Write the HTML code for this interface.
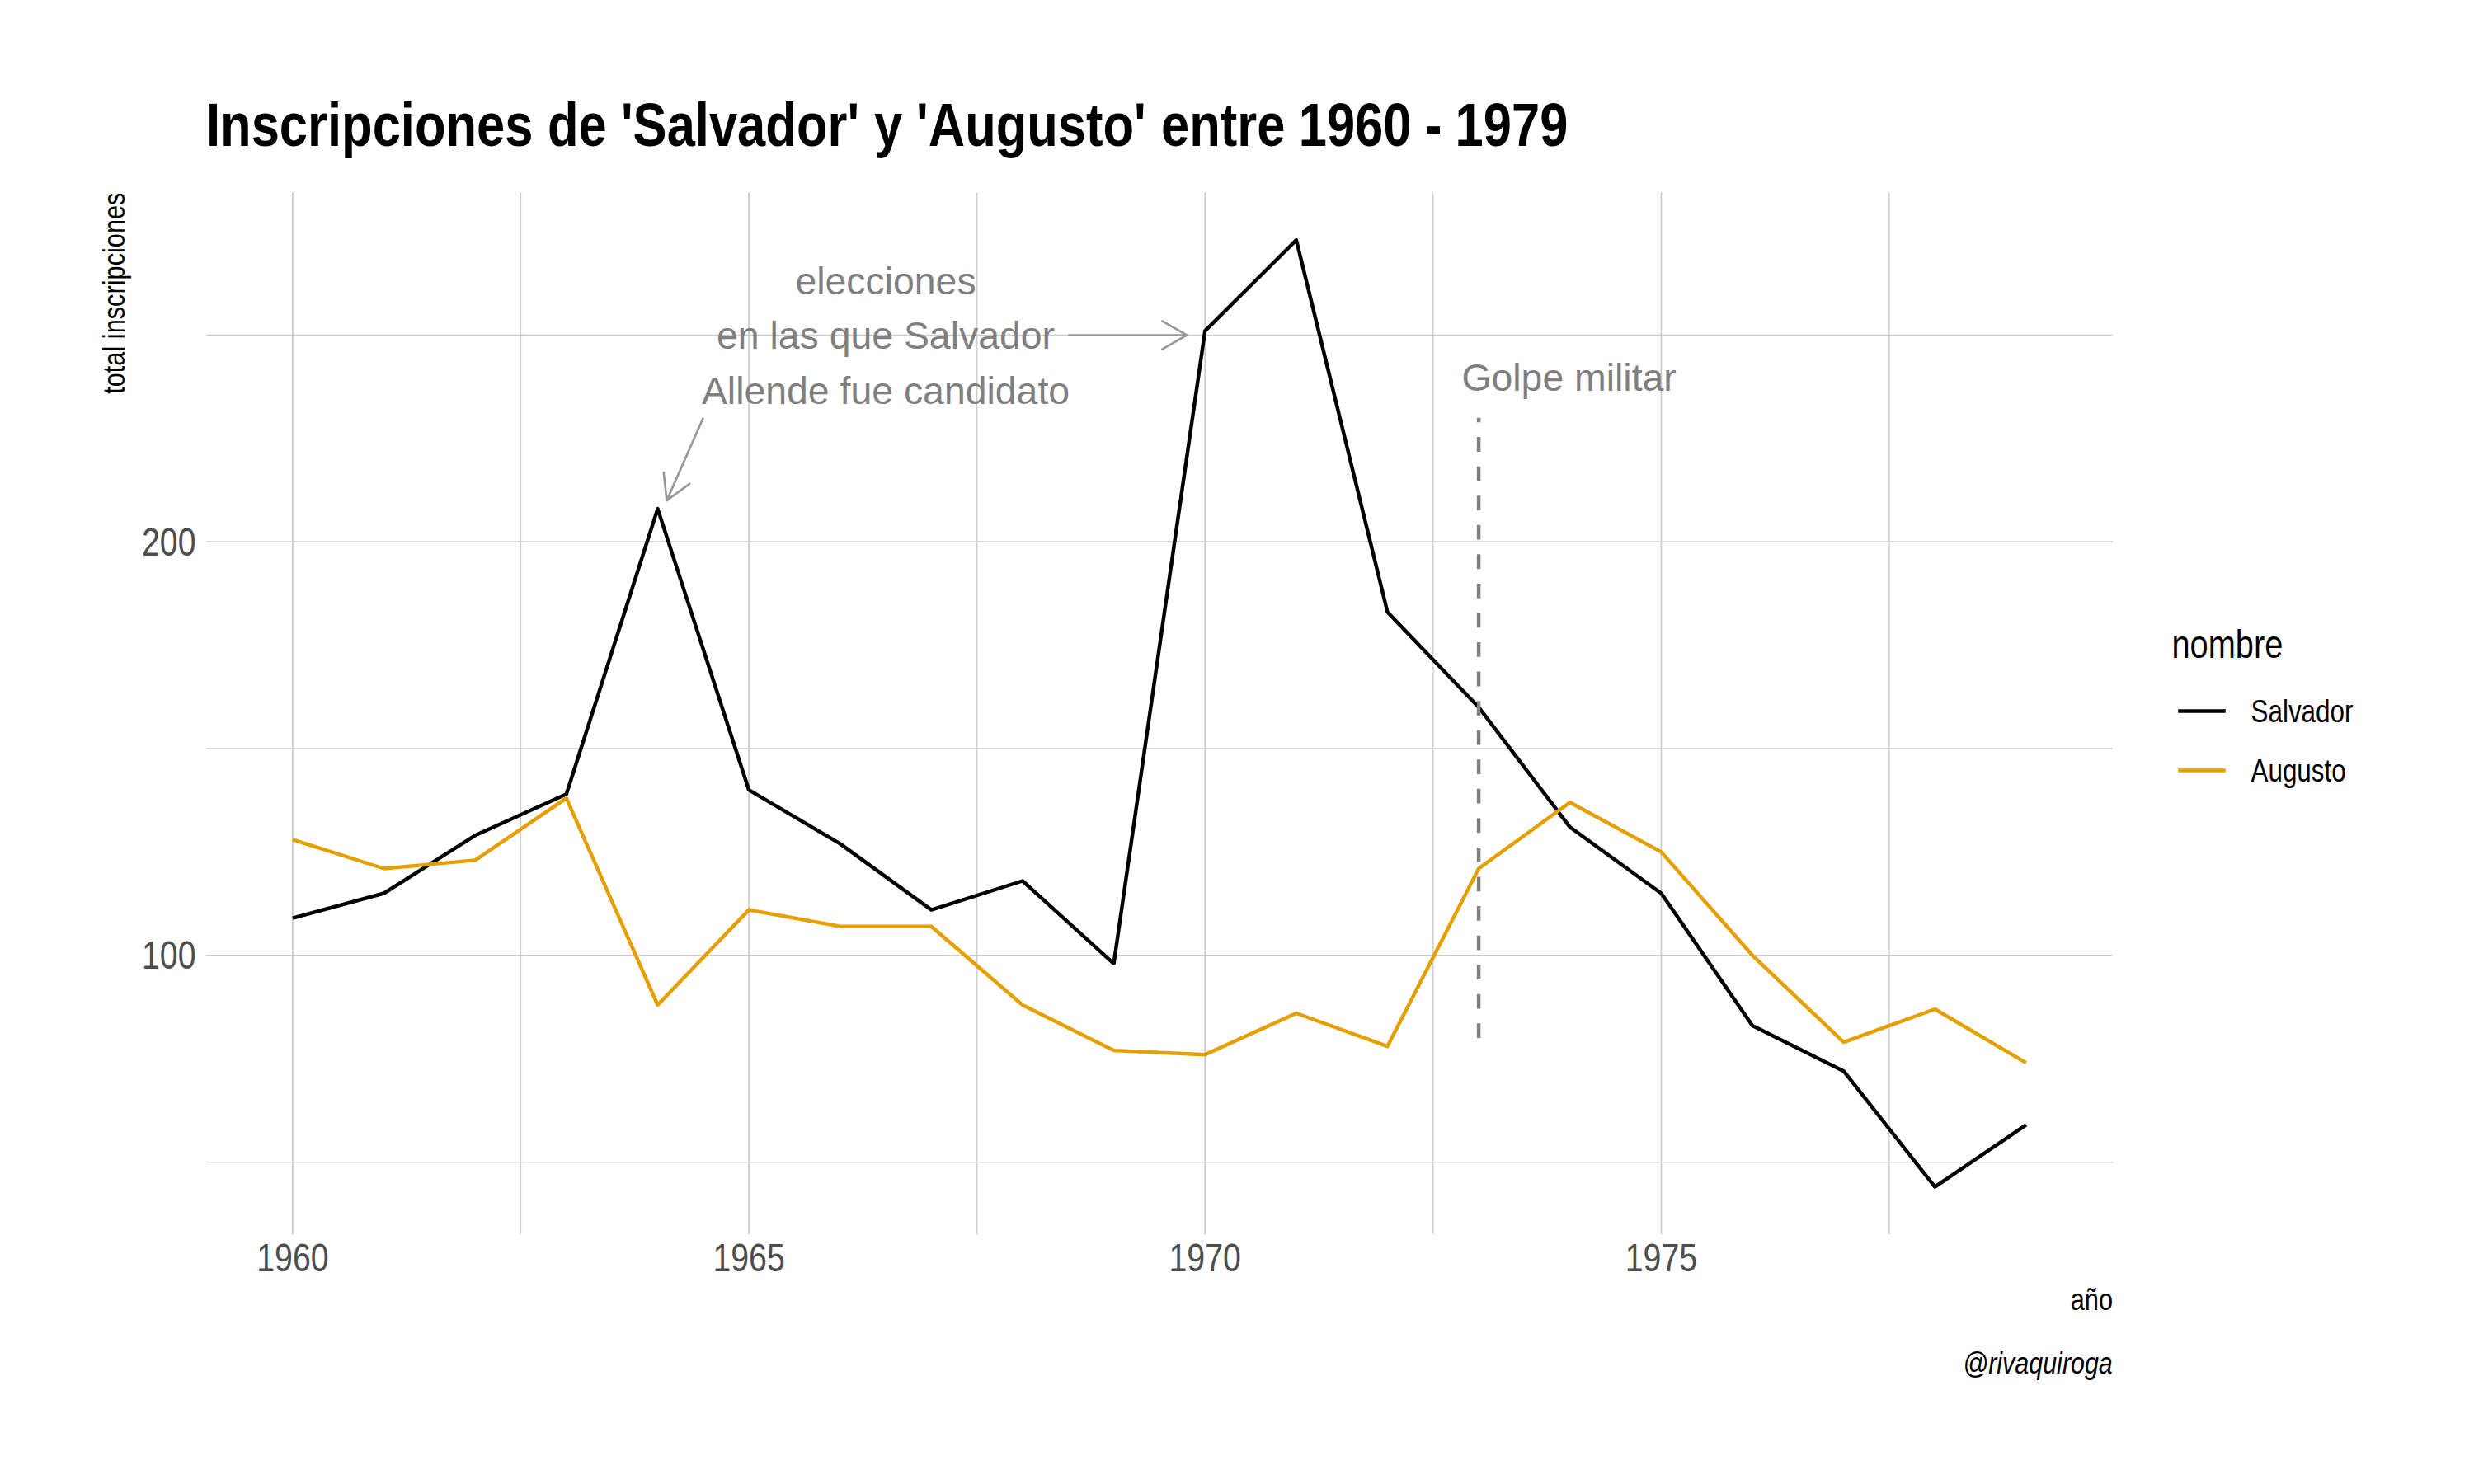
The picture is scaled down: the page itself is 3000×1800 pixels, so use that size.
<!DOCTYPE html>
<html lang="es">
<head>
<meta charset="utf-8">
<title>Inscripciones de 'Salvador' y 'Augusto' entre 1960 - 1979</title>
<style>
html,body{margin:0;padding:0;background:#fff;}
body{width:3000px;height:1800px;overflow:hidden;}
svg{display:block;}
text{font-family:"Liberation Sans",sans-serif;}
</style>
</head>
<body>
<svg width="3000" height="1800" viewBox="0 0 3000 1800">
<rect width="3000" height="1800" fill="#ffffff"/>

<g stroke="#cccccc" fill="none">
<line x1="249.9" x2="2561.9" y1="1409.6" y2="1409.6" stroke-width="1.33"/>
<line x1="249.9" x2="2561.9" y1="908.0" y2="908.0" stroke-width="1.33"/>
<line x1="249.9" x2="2561.9" y1="406.5" y2="406.5" stroke-width="1.33"/>
<line x1="249.9" x2="2561.9" y1="1158.8" y2="1158.8" stroke-width="1.78"/>
<line x1="249.9" x2="2561.9" y1="657.2" y2="657.2" stroke-width="1.78"/>
<line y1="233.6" y2="1497.0" x1="631.5" x2="631.5" stroke-width="1.33"/>
<line y1="233.6" y2="1497.0" x1="1184.7" x2="1184.7" stroke-width="1.33"/>
<line y1="233.6" y2="1497.0" x1="1737.8" x2="1737.8" stroke-width="1.33"/>
<line y1="233.6" y2="1497.0" x1="2291.0" x2="2291.0" stroke-width="1.33"/>
<line y1="233.6" y2="1497.0" x1="354.9" x2="354.9" stroke-width="1.78"/>
<line y1="233.6" y2="1497.0" x1="908.1" x2="908.1" stroke-width="1.78"/>
<line y1="233.6" y2="1497.0" x1="1461.2" x2="1461.2" stroke-width="1.78"/>
<line y1="233.6" y2="1497.0" x1="2014.4" x2="2014.4" stroke-width="1.78"/>
</g>
<polyline points="354.9,1113.6 465.6,1083.5 576.2,1013.3 686.8,963.2 797.5,617.1 908.1,958.2 1018.7,1023.4 1129.4,1103.6 1240.0,1068.5 1350.6,1168.8 1461.2,401.4 1571.9,291.1 1682.5,742.5 1793.1,857.9 1903.8,1003.3 2014.4,1083.5 2125.0,1244.0 2235.7,1299.2 2346.3,1439.6 2456.9,1364.4" fill="none" stroke="#000000" stroke-width="4.45" stroke-linejoin="round" stroke-linecap="butt"/>
<polyline points="354.9,1018.3 465.6,1053.5 576.2,1043.4 686.8,968.2 797.5,1219.0 908.1,1103.6 1018.7,1123.7 1129.4,1123.7 1240.0,1219.0 1350.6,1274.1 1461.2,1279.2 1571.9,1229.0 1682.5,1269.1 1793.1,1053.5 1903.8,973.2 2014.4,1033.4 2125.0,1158.8 2235.7,1264.1 2346.3,1224.0 2456.9,1289.2" fill="none" stroke="#E69F00" stroke-width="4.45" stroke-linejoin="round" stroke-linecap="butt"/>
<line x1="1793.1" x2="1793.1" y1="1259.1" y2="506.8" stroke="#7f7f7f" stroke-width="4.45" stroke-dasharray="17.78 17.78"/>
<g fill="none" stroke="#999999" stroke-width="2.67" stroke-linecap="butt" stroke-linejoin="round"><line x1="1295.3" y1="406.5" x2="1439.1" y2="406.5"/><polyline points="1408.5,388.8 1439.1,406.5 1408.5,424.2"/></g>
<g fill="none" stroke="#999999" stroke-width="2.67" stroke-linecap="butt" stroke-linejoin="round"><line x1="852.8" y1="506.8" x2="808.5" y2="607.1"/><polyline points="837.1,586.2 808.5,607.1 804.7,571.9"/></g>
<text x="1074.0" y="357.0" font-size="46.4" text-anchor="middle" fill="#7f7f7f">elecciones</text>
<text x="1074.0" y="422.8" font-size="46.4" text-anchor="middle" fill="#7f7f7f">en las que Salvador</text>
<text x="1074.0" y="489.9" font-size="46.4" text-anchor="middle" fill="#7f7f7f">Allende fue candidato</text>
<text x="1902.6" y="473.8" font-size="46.4" text-anchor="middle" fill="#7f7f7f">Golpe militar</text>
<text transform="translate(250,177.3) scale(0.82,1)" font-size="75" font-weight="bold" fill="#000"><tspan x="0.00">Inscripciones</tspan> <tspan x="504.76">de</tspan> <tspan x="613.41">'Salvador'</tspan> <tspan x="987.93">y</tspan> <tspan x="1050.12">'Augusto'</tspan> <tspan x="1412.20">entre</tspan> <tspan x="1615.49">1960</tspan> <tspan x="1802.56">-</tspan> <tspan x="1847.07">1979</tspan></text>
<text transform="translate(150.6,233.5) rotate(-90) scale(0.82,1)" font-size="37.5" text-anchor="end" fill="#000" font-weight="normal" font-style="normal">total inscripciones</text>
<text transform="translate(2562.0,1588.7) scale(0.82,1)" font-size="37.5" text-anchor="end" fill="#000" font-weight="normal" font-style="normal">año</text>
<text transform="translate(2561.8,1665.5) scale(0.812,1)" font-size="37.5" text-anchor="end" fill="#000" font-weight="normal" font-style="italic">@rivaquiroga</text>
<text transform="translate(354.9,1541.9) scale(0.82,1)" font-size="47.9" text-anchor="middle" fill="#4d4d4d" font-weight="normal" font-style="normal">1960</text>
<text transform="translate(908.1,1541.9) scale(0.82,1)" font-size="47.9" text-anchor="middle" fill="#4d4d4d" font-weight="normal" font-style="normal">1965</text>
<text transform="translate(1461.2,1541.9) scale(0.82,1)" font-size="47.9" text-anchor="middle" fill="#4d4d4d" font-weight="normal" font-style="normal">1970</text>
<text transform="translate(2014.4,1541.9) scale(0.82,1)" font-size="47.9" text-anchor="middle" fill="#4d4d4d" font-weight="normal" font-style="normal">1975</text>
<text transform="translate(237.5,1174.7) scale(0.82,1)" font-size="47.9" text-anchor="end" fill="#4d4d4d" font-weight="normal" font-style="normal">100</text>
<text transform="translate(237.5,674.0) scale(0.82,1)" font-size="47.9" text-anchor="end" fill="#4d4d4d" font-weight="normal" font-style="normal">200</text>
<text transform="translate(2633.5,798.1) scale(0.83,1)" font-size="47.9" text-anchor="start" fill="#000" font-weight="normal" font-style="normal">nombre</text>
<line x1="2641.2" x2="2698.8" y1="862.4" y2="862.4" stroke="#000" stroke-width="4.45"/>
<line x1="2641.2" x2="2698.8" y1="934.4" y2="934.4" stroke="#E69F00" stroke-width="4.45"/>
<text transform="translate(2729.5,876.0) scale(0.82,1)" font-size="38.3" text-anchor="start" fill="#000" font-weight="normal" font-style="normal">Salvador</text>
<text transform="translate(2729.5,948.3) scale(0.82,1)" font-size="38.3" text-anchor="start" fill="#000" font-weight="normal" font-style="normal">Augusto</text>
</svg>
</body>
</html>
